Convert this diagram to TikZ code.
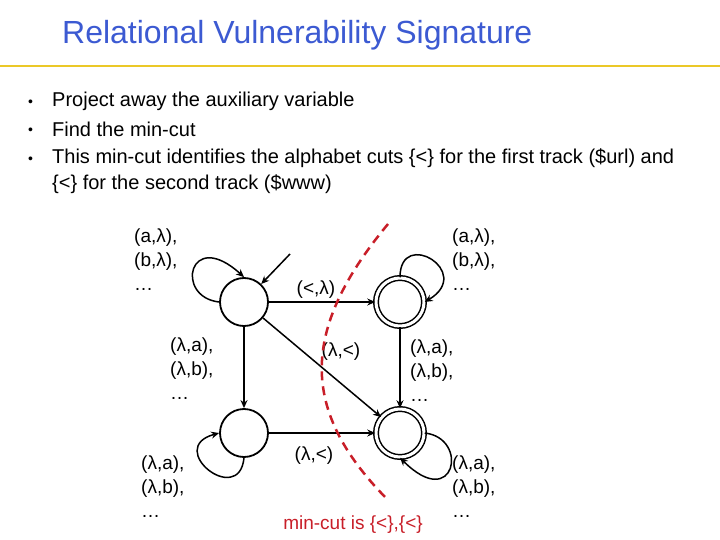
\documentclass[tikz,border=0pt]{standalone}
\usepackage{fontspec}
\setmainfont{Liberation Sans}
\usetikzlibrary{arrows.meta}
\definecolor{ttl}{RGB}{60,90,210}
\definecolor{gold}{RGB}{235,200,40}
\definecolor{cutred}{RGB}{200,30,40}
\begin{document}
\begin{tikzpicture}[x=1pt,y=-1pt,
  st/.style={circle,draw,line width=1.8pt,minimum size=48pt,inner sep=0pt},
  acc/.style={st,double,double distance=3pt,line width=1.5pt},
  ed/.style={line width=1.5pt,-{Stealth[length=8pt,width=7pt]}},
  lbl/.style={font=\fontsize{19}{24}\selectfont,align=left,inner sep=0pt},
  txt/.style={font=\fontsize{20}{28}\selectfont,anchor=west,inner sep=0pt},
  bul/.style={txt,font=\fontsize{14}{20}\selectfont}]
\useasboundingbox (0,0) rectangle (720,540);
\node[anchor=west,text=ttl,font=\fontsize{32}{36}\selectfont,inner sep=0pt] (title) at (62,35) {Relational Vulnerability Signature};
\draw[gold,line width=2pt] (0,66) -- (720,66);
\node[bul] (b1) at (28,103) {•};\node[txt] (t1) at (52,101) {Project away the auxiliary variable};
\node[bul] (b2) at (28,131) {•};\node[txt] (t2) at (52,129) {Find the min-cut};
\node[bul] (b3) at (28,160) {•};\node[txt] (t3) at (52,158) {This min-cut identifies the alphabet cuts \{<\} for the first track (\$url) and};
\node[txt] (t4) at (52,184) {\{<\} for the second track (\$www)};
\node[st] (A) at (244,302) {};
\node[acc] (B) at (400,302) {};
\node[st] (C) at (244,433) {};
\node[acc] (D) at (400,433) {};
\coordinate (s) at (290,254);
\draw[ed] (s) -- (A);
\draw[ed] (A) -- (B);
\draw[ed] (A) -- (C);
\draw[ed] (A) -- (D);
\draw[ed] (B) -- (D);
\draw[ed] (C) -- (D);
\draw[ed] (A.west) .. controls +(-45,-5) and +(-55,-50) .. (A.north);
\draw[ed] (B.north) .. controls +(0,-50) and +(50,-30) .. (B.east);
\draw[ed] (C.south) .. controls +(-5,50) and +(-55,15) .. (C.west);
\draw[ed] (D.east) .. controls +(45,5) and +(55,55) .. (D.south);
\node[lbl,anchor=north west] (l1) at (134,229) {(a,λ),\\(b,λ),\\…};
\node[lbl,anchor=north west] (l2) at (452,229) {(a,λ),\\(b,λ),\\…};
\node[lbl,anchor=north west] (l3) at (170,338) {(λ,a),\\(λ,b),\\…};
\node[lbl,anchor=north west] (l4) at (410,340) {(λ,a),\\(λ,b),\\…};
\node[lbl,anchor=north west] (l5) at (141,456) {(λ,a),\\(λ,b),\\…};
\node[lbl,anchor=north west] (l6) at (452,456) {(λ,a),\\(λ,b),\\…};
\node[lbl] (e1) at (316,290) {(<,λ)};
\node[lbl] (e2) at (341,352) {(λ,<)};
\node[lbl] (e3) at (314,456) {(λ,<)};
\draw[cutred,line width=2.5pt,dash pattern=on 9pt off 6pt] (388,224) .. controls (300,330) and (300,410) .. (386,498);
\node[text=cutred,font=\fontsize{19}{22}\selectfont,inner sep=0pt] (mc) at (353,525) {min-cut is \{<\},\{<\}};
\end{tikzpicture}
\end{document}
